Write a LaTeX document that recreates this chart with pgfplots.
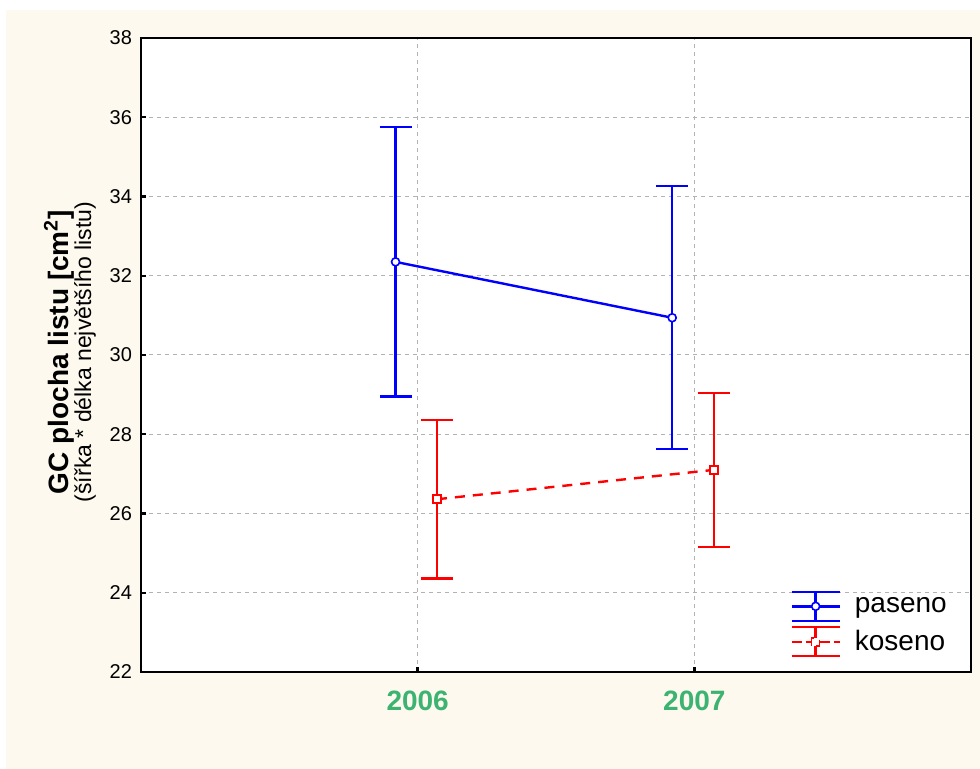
\documentclass[border=0pt]{standalone}
\usepackage{fontspec}
\setmainfont{Liberation Sans}
\usepackage{pgfplots}
\pgfplotsset{compat=1.18}
\definecolor{cream}{HTML}{FDF9EE}
\definecolor{yeargreen}{HTML}{3CB371}
\definecolor{pblue}{HTML}{0000FF}
\definecolor{kred}{HTML}{FF0000}

\begin{document}
\begin{tikzpicture}
% page background
\fill[white] (-70.5pt,-48.5pt) rectangle (419.5pt,336pt);
\fill[cream] (-67.5pt,-48.5pt) rectangle (419.5pt,331pt);
\begin{axis}[
  at={(0,0)}, anchor=south west,
  scale only axis, width=415pt, height=317pt,
  xmin=0, xmax=3, ymin=22, ymax=38,
  xtick={1,2}, xticklabels={2006,2007},
  ytick={22,24,...,38},
  tick pos=left,
  tick align=inside,
  major tick length=2.5pt,
  axis line style={line width=1.2pt},
  every tick/.style={black, line width=1.2pt},
  grid=major,
  major grid style={black!30, line width=0.5pt, dash pattern=on 2pt off 2pt},
  axis background/.style={fill=white},
  /pgf/number format/assume math mode=true,
  yticklabel style={font=\fontsize{10}{12}\selectfont, xshift=-1pt},
  xticklabel style={font=\fontsize{14}{16}\selectfont\bfseries, text=yeargreen, yshift=-6pt},
  clip=false,
  legend style={draw=none, fill=none, at={(0.782,0.129)}, anchor=north west,
    font=\fontsize{14}{16}\selectfont, row sep=2pt, column sep=6pt, inner sep=0pt,
    nodes={inner sep=1pt}},
  legend cell align=left,
]
% paseno: means with confidence intervals
\addplot[pblue, line width=1.2pt, mark=*, mark size=2pt,
  mark options={fill=white, draw=pblue, line width=0.8pt, solid},
  legend image code/.code={
    \draw[pblue, line width=1.2pt, solid]
      (0pt,7.25pt) -- (24pt,7.25pt) (0pt,-7.25pt) -- (24pt,-7.25pt)
      (12pt,-7.25pt) -- (12pt,7.25pt) (0pt,0pt) -- (24pt,0pt);
    \draw[pblue, line width=0.8pt, fill=white] (12pt,0pt) circle[radius=2pt];
  },
  error bars/.cd, y dir=both, y explicit, error mark=|,
  error mark options={mark size=8pt, line width=1.2pt, pblue},
  error bar style={line width=1.2pt, solid, pblue}]
  table[x=x, y=y, y error=err] {
x    y     err
0.92 32.35 3.40
1.92 30.94 3.32
};
\addlegendentry{paseno}
% koseno: means with confidence intervals
\addplot[kred, line width=1.2pt, dash pattern=on 5pt off 4pt, mark=square*, mark size=2pt,
  mark options={fill=white, draw=kred, line width=0.8pt, solid},
  legend image code/.code={
    \draw[kred, line width=1.2pt, solid]
      (0pt,7.25pt) -- (24pt,7.25pt) (0pt,-7.25pt) -- (24pt,-7.25pt)
      (12pt,-7.25pt) -- (12pt,7.25pt);
    \draw[kred, line width=1.2pt, dash pattern=on 5pt off 2pt] (0pt,0pt) -- (24pt,0pt);
    \draw[kred, line width=0.8pt, fill=white] (10pt,-2pt) rectangle (14pt,2pt);
  },
  error bars/.cd, y dir=both, y explicit, error mark=|,
  error mark options={mark size=8pt, line width=1.2pt, kred, solid},
  error bar style={line width=1.2pt, solid, kred}]
  table[x=x, y=y, y error=err] {
x    y     err
1.07 26.36 2.00
2.07 27.10 1.94
};
\addlegendentry{koseno}
\end{axis}
\node[rotate=90, font=\fontsize{14}{16}\selectfont\bfseries] at (-41pt,160pt) {GC plocha listu [cm\textsuperscript{2}]};
\node[rotate=90, font=\fontsize{11.5}{13}\selectfont] at (-28pt,160pt) {(šířka * délka největšího listu)};
\end{tikzpicture}
\end{document}
